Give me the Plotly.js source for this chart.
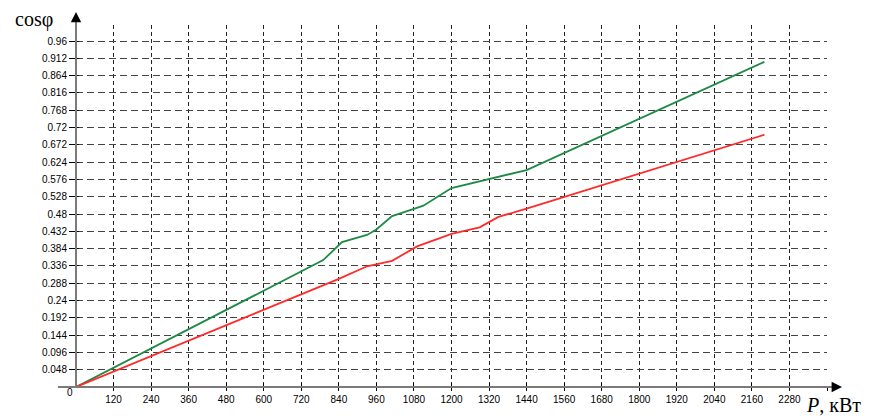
<!DOCTYPE html>
<html>
<head>
<meta charset="utf-8">
<script src="https://cdn.plot.ly/plotly-3.0.1.min.js"></script>
<style>html,body{margin:0;padding:0;background:#fff;}#chart{width:870px;height:418px;}</style>
</head>
<body>
<div id="chart"></div>
<script>
// Data
const greenP   = [0, 790, 850, 930, 960, 1010, 1080, 1110, 1200, 1320, 1440, 2200];
const greenCos = [0, 0.352, 0.402, 0.422, 0.437, 0.474, 0.494, 0.503, 0.552, 0.576, 0.602, 0.902];
const redP     = [0, 780, 840, 930, 1010, 1090, 1200, 1290, 1350, 1440, 2200];
const redCos   = [0, 0.280, 0.300, 0.335, 0.350, 0.390, 0.425, 0.443, 0.472, 0.495, 0.700];

const xTickVals = [120,240,360,480,600,720,840,960,1080,1200,1320,1440,1560,1680,1800,1920,2040,2160,2280,2400];
const xTickText = ["120","240","360","480","600","720","840","960","1080","1200","1320","1440","1560","1680","1800","1920","2040","2160","2280",""];
const yTickVals = [0.048,0.096,0.144,0.192,0.24,0.288,0.336,0.384,0.432,0.48,0.528,0.576,0.624,0.672,0.72,0.768,0.816,0.864,0.912,0.96];
const yTickText = ["0.048","0.096","0.144","0.192","0.24","0.288","0.336","0.384","0.432","0.48","0.528","0.576","0.624","0.672","0.72","0.768","0.816","0.864","0.912","0.96"];

const xRange = [0, 2400];
const yRange = [0, 1.0044];

const traces = [
  {x: greenP, y: greenCos, mode: 'lines', line: {color: '#1f8a45', width: 1.8}, hoverinfo: 'skip'},
  {x: redP, y: redCos, mode: 'lines', line: {color: '#ff2a2a', width: 1.8}, hoverinfo: 'skip'},
  {x: [], y: [], xaxis: 'x2', yaxis: 'y2', mode: 'lines', hoverinfo: 'skip'}
];

const tickFont = {family: 'Liberation Sans, Arial, sans-serif', size: 10, color: '#000'};
const serif = 'Liberation Serif, Times New Roman, serif';

const layout = {
  width: 870, height: 418,
  margin: {l: 76, r: 43, t: 25, b: 31},
  paper_bgcolor: '#fff', plot_bgcolor: '#fff',
  showlegend: false,
  xaxis: {
    range: xRange, tickvals: xTickVals, ticktext: xTickText,
    showgrid: true, gridcolor: '#222', gridwidth: 1, griddash: '4px,3px',
    zeroline: false, showline: false,
    ticks: 'outside', ticklen: 3, tickcolor: '#000', tickwidth: 1,
    tickfont: tickFont, fixedrange: true
  },
  yaxis: {
    range: yRange, tickvals: yTickVals, ticktext: yTickText,
    showgrid: true, gridcolor: '#444', gridwidth: 1, griddash: '7px,4px',
    zeroline: false, showline: false,
    ticks: 'outside', ticklen: 6, tickcolor: '#000', tickwidth: 1,
    tickfont: tickFont, fixedrange: true
  },
  xaxis2: {
    overlaying: 'x', range: xRange, tickvals: xTickVals, showticklabels: false,
    showgrid: false, zeroline: false, showline: false,
    ticks: 'inside', ticklen: 4, tickcolor: '#000', tickwidth: 1, anchor: 'y2', side: 'bottom'
  },
  yaxis2: {
    overlaying: 'y', range: yRange, tickvals: yTickVals, showticklabels: false,
    showgrid: false, zeroline: false, showline: false,
    ticks: 'inside', ticklen: 3, tickcolor: '#000', tickwidth: 1, anchor: 'x2', side: 'left'
  },
  shapes: [
    {type: 'line', xref: 'paper', yref: 'paper', x0: -0.024, x1: 1.01, y0: 0, y1: 0,
     line: {color: '#7a7a7a', width: 2}, layer: 'above'},
    {type: 'line', xref: 'paper', yref: 'paper', x0: 0, x1: 0, y0: 0, y1: 1.02,
     line: {color: '#7a7a7a', width: 2}, layer: 'above'}
  ],
  annotations: [
    {xref: 'paper', yref: 'paper', x: 0, y: 1.036, ax: 0, ay: 10, text: '', showarrow: true,
     arrowhead: 2, arrowsize: 1.3, arrowwidth: 1.6, arrowcolor: '#000', axref: 'pixel', ayref: 'pixel'},
    {xref: 'paper', yref: 'paper', x: 1.020, y: 0, ax: -10, ay: 0, text: '', showarrow: true,
     arrowhead: 2, arrowsize: 1.3, arrowwidth: 1.6, arrowcolor: '#000'},
    {xref: 'paper', yref: 'paper', x: -0.056, y: 1.014, text: 'cosφ', showarrow: false,
     font: {family: serif, size: 20, color: '#000'}, xanchor: 'center', yanchor: 'middle'},
    {xref: 'paper', yref: 'paper', x: 1.008, y: -0.05, text: '<i>P</i>, кВт', showarrow: false,
     font: {family: serif, size: 20, color: '#000'}, xanchor: 'center', yanchor: 'middle'},
    {xref: 'paper', yref: 'paper', x: -0.008, y: -0.014, text: '0', showarrow: false,
     font: tickFont, xanchor: 'center', yanchor: 'middle'}
  ]
};

Plotly.newPlot('chart', traces, layout, {staticPlot: true, displayModeBar: false});
</script>
</body>
</html>
